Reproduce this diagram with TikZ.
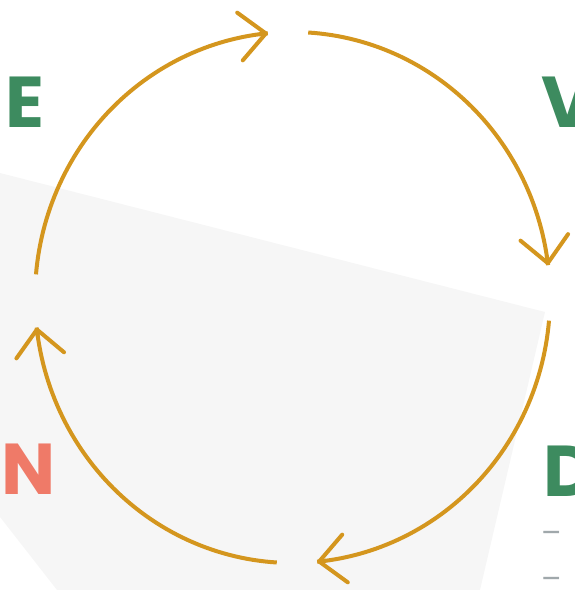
\documentclass[tikz,border=0pt]{standalone}
\usepackage{fontspec}
\setmainfont{Poppins}
\usetikzlibrary{arrows.meta}
\definecolor{cyclegold}{HTML}{D4961E}
\definecolor{stepgreen}{HTML}{3D8B5F}
\definecolor{stepsalmon}{HTML}{EF7A68}
\definecolor{backgray}{HTML}{F6F6F6}
\definecolor{dashgray}{HTML}{A0A8AB}
\begin{document}
\begin{tikzpicture}[x=1pt,y=1pt,
  declare function={ex(\t)=292.5+257.5*cos(\t); ey(\t)=292.5+265.5*sin(\t);},
  cycline/.style={cyclegold,line width=4pt},
  cyctip/.style={cyclegold,line width=4pt,-{Straight Barb[round,length=26pt,width=48pt]}},
  letter/.style={font=\fontsize{72}{72}\selectfont\bfseries,inner sep=0pt,anchor=base west},
  bullet/.style={dashgray,font=\fontsize{30}{30}\selectfont,inner sep=0pt,anchor=north west}]
  \useasboundingbox (0,0) rectangle (574,590);
  \fill[backgray] (0,417) -- (545,278) -- (480,0) -- (57,0) -- (0,73) -- cycle;
  \foreach \A/\B [count=\Z] in {175/95.5,86.5/7,-5/-84.5,-93.5/-173.5}
  {\draw[cycline] plot[domain=\A:\B,samples=60,variable=\t] ({ex(\t)},{ey(\t)});
   \coordinate (T\Z) at ({ex(\B)},{ey(\B)});
   \draw[cyctip] ({ex(\B+2)},{ey(\B+2)}) -- (T\Z);}
  \node[letter,stepgreen] (E) at (5,462) {E};
  \node[letter,stepgreen] (V) at (541,462) {V};
  \node[letter,stepsalmon] (N) at (1,95) {N};
  \node[letter,stepgreen] (D) at (543,93) {D};
  \foreach \Y [count=\Z] in {58.5,12.5}
  {\node[bullet] (L\Z) at (541,\Y) {–};}
\end{tikzpicture}
\end{document}
